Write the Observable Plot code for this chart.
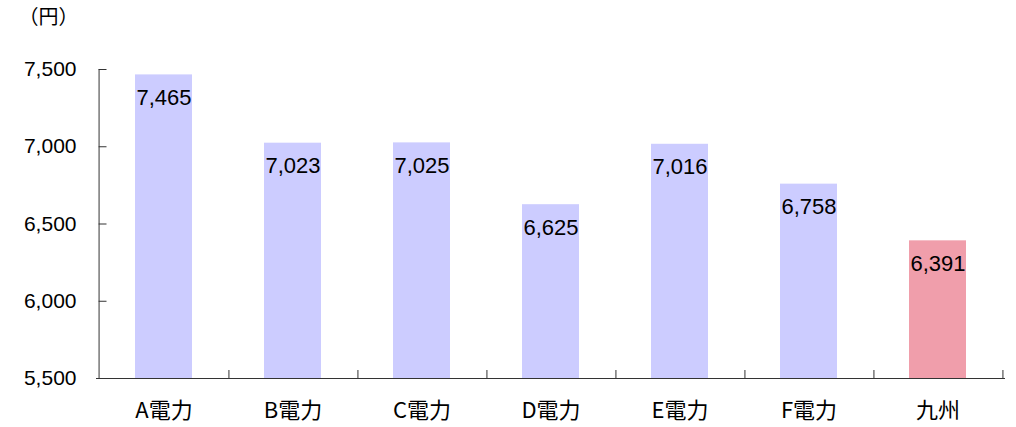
<!DOCTYPE html>
<html>
<head>
<meta charset="utf-8">
<script src="https://cdn.jsdelivr.net/npm/d3@7"></script>
<script src="https://cdn.jsdelivr.net/npm/@observablehq/plot@0.6"></script>
<style>
  html, body { margin: 0; padding: 0; background: #fff; }
  #chart svg { display: block; }
</style>
</head>
<body>
<div id="chart"></div>
<script>
const categories = ["A電力", "B電力", "C電力", "D電力", "E電力", "F電力", "九州"];
const values = [7465, 7023, 7025, 6625, 7016, 6758, 6391];
const highlight = [false, false, false, false, false, false, true];
const yTicks = [5500, 6000, 6500, 7000, 7500];
const unitLabel = "（円）";

const data = categories.map((c, i) => ({ category: c, value: values[i], hl: highlight[i] }));

const W = 1016, H = 427;
const mL = 96, mR = 11, mT = 69, mB = 49;
const padIn = 0.56, padOut = 0.28;
const step = (W - mL - mR) / categories.length;
const bandwidth = step * (1 - padIn);
const tickLen = 8;
const yPerPx = (7500 - 5500) / (H - mT - mB);
const numFont = "'Liberation Sans', Arial, sans-serif";
const cjkFont = "'Noto Sans CJK JP', sans-serif";

const chart = Plot.plot({
  width: W,
  height: H,
  marginLeft: mL,
  marginRight: mR,
  marginTop: mT,
  marginBottom: mB,
  style: { fontFamily: numFont, background: "#fff", color: "#000" },
  x: { domain: categories, paddingInner: padIn, paddingOuter: padOut, label: null },
  y: { domain: [5500, 7500], label: null },
  marks: [
    Plot.barY(data, {
      x: "category",
      y1: 5500,
      y2: "value",
      fill: d => d.hl ? "#F09EAB" : "#CCCCFF"
    }),
    Plot.text(data, {
      x: "category",
      y: "value",
      text: d => d3.format(",")(d.value),
      dy: 23,
      fontSize: 22,
      fill: "#000"
    }),
    // y axis labels
    Plot.axisY({
      ticks: yTicks,
      tickFormat: d3.format(","),
      tickSize: 0,
      tickPadding: 20,
      fontSize: 21,
      fill: "#000",
      label: null
    }),
    // y axis ticks pointing inward (short ticks starting at the axis)
    Plot.tickY(yTicks, {
      y: d => d,
      x: () => categories[0],
      dx: -padOut * step,
      insetRight: bandwidth - tickLen,
      stroke: "#333"
    }),
    // x axis labels
    Plot.axisX({
      tickSize: 0,
      tickPadding: 24,
      fontSize: 22,
      fontFamily: cjkFont,
      fill: "#000",
      label: null
    }),
    // vertical axis line
    Plot.ruleX([categories[0]], {
      x: d => d,
      y1: 5500,
      y2: 7500,
      dx: -step / 2,
      stroke: "#333"
    }),
    // bottom axis line
    Plot.ruleY([5500], { stroke: "#333" }),
    // band boundary ticks (upward)
    Plot.ruleX(categories, {
      x: d => d,
      y1: 5500,
      y2: 5500 + tickLen * yPerPx,
      dx: step / 2,
      stroke: "#333"
    }),
    Plot.text([unitLabel], {
      frameAnchor: "top-left",
      text: d => d,
      textAnchor: "start",
      lineAnchor: "top",
      dx: 18 - mL,
      dy: 9 - mT,
      fontSize: 20,
      fontFamily: cjkFont,
      fill: "#000"
    })
  ]
});

document.getElementById("chart").appendChild(chart);
</script>
</body>
</html>
